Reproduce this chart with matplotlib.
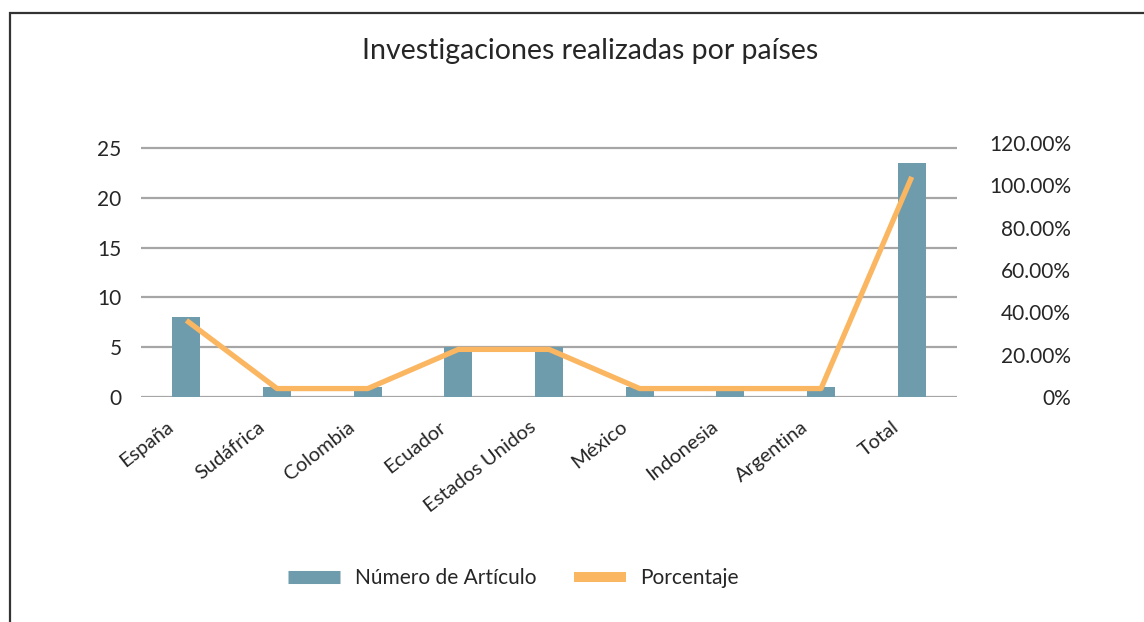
import matplotlib
matplotlib.use("Agg")
import matplotlib.pyplot as plt
from matplotlib.patches import Rectangle
from matplotlib.lines import Line2D
from matplotlib.ticker import FuncFormatter
from matplotlib.transforms import ScaledTranslation
import numpy as np

paises = ["España", "Sudáfrica", "Colombia", "Ecuador", "Estados Unidos",
          "México", "Indonesia", "Argentina", "Total"]
articulos = [8, 1, 1, 5, 5, 1, 1, 1, 23.5]
porcentaje = [36.2, 4.0, 4.0, 22.5, 22.5, 4.0, 4.0, 4.0, 104.0]

AZUL = "#6e9cad"
NARANJA = "#fbb662"
GRIS = "#a6a6a6"
TEXTO = "#262626"

plt.rcParams["font.family"] = ["Lato", "DejaVu Sans"]

fig = plt.figure(figsize=(11.44, 6.22), dpi=100)
ax = fig.add_axes([0.1233, 0.3617, 0.7133, 0.4084])
ax2 = ax.twinx()

x = np.arange(len(paises))
ax.bar(x, articulos, width=0.31, color=AZUL, zorder=3)
ax2.plot(x, porcentaje, color=NARANJA, lw=3.8, solid_capstyle="butt", zorder=4)

ax.set_xlim(-0.5, len(paises) - 0.5)
ax.set_ylim(0, 25.5)
ax.set_yticks([0, 5, 10, 15, 20, 25])
ax.yaxis.grid(True, color=GRIS, lw=1.6, zorder=0)
ax.set_axisbelow(True)
ax2.set_ylim(0, 120)
ax2.set_yticks([0, 20, 40, 60, 80, 100, 120])
ax2.yaxis.set_major_formatter(FuncFormatter(lambda v, p: "0%" if v == 0 else f"{v:.2f}%"))

for a in (ax, ax2):
    for s in a.spines.values():
        s.set_visible(False)

ax.tick_params(axis="y", length=0, pad=14, labelsize=15, labelcolor=TEXTO)
ax2.tick_params(axis="y", length=0, pad=82, labelsize=15, labelcolor=TEXTO)
for lab in ax2.get_yticklabels():
    lab.set_ha("right")

ax.set_xticks(x)
ax.set_xticklabels(paises, rotation=38, ha="right", rotation_mode="anchor",
                   fontsize=14.5, color=TEXTO)
ax.tick_params(axis="x", length=0, pad=8)
# labels sit a little left of and below their bars in the original
shift = ScaledTranslation(-0.2, -0.1, fig.dpi_scale_trans)
for lab in ax.get_xticklabels():
    lab.set_transform(lab.get_transform() + shift)

fig.text(0.516, 0.918, "Investigaciones realizadas por países", ha="center",
         va="center", fontsize=20.5, color=TEXTO)

handles = [Line2D([], [], color=AZUL, lw=9.4, solid_capstyle="butt"),
           Line2D([], [], color=NARANJA, lw=7.2, solid_capstyle="butt")]
fig.legend(handles, ["Número de Artículo", "Porcentaje"], loc="center",
           bbox_to_anchor=(0.449, 0.071), ncol=2, frameon=False, fontsize=15,
           handlelength=2.5, handletextpad=0.7, columnspacing=1.8,
           labelcolor=TEXTO)

fig.add_artist(Rectangle((10 / 1144, -0.2), 1.2, 1.2 - 13 / 622,
                         transform=fig.transFigure, fill=False,
                         edgecolor="#333333", lw=1.6))

fig.savefig("out.png", dpi=100)
